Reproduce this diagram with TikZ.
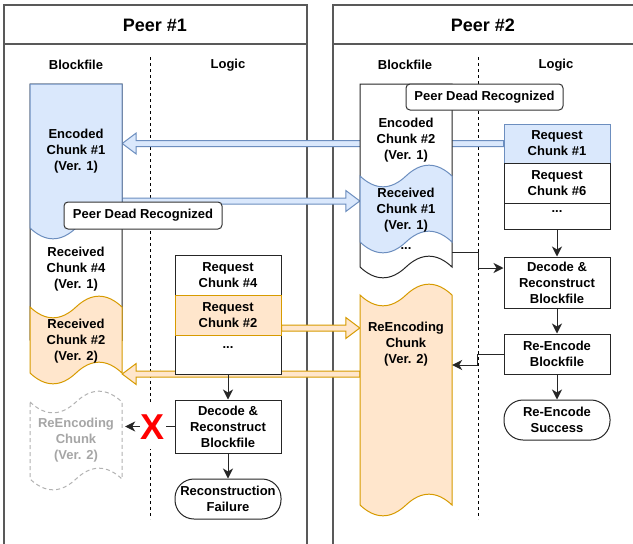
\documentclass[tikz,border=0pt]{standalone}
\usepackage{fontspec}
\setmainfont{Liberation Sans}
\usetikzlibrary{arrows.meta,calc}
\definecolor{bfill}{HTML}{DAE8FC}
\definecolor{bline}{HTML}{6C8EBF}
\definecolor{ofill}{HTML}{FFE6CC}
\definecolor{oline}{HTML}{D79B00}
\pgfdeclarelayer{back}
\pgfdeclarelayer{arrowsl}
\pgfdeclarelayer{shapesl}
\pgfdeclarelayer{front}
\pgfsetlayers{back,arrowsl,shapesl,main,front}
\newcommand{\myfs}{\fontsize{13}{16}\selectfont\bfseries}
\newcommand{\flexarr}[3]{%
  \path[#3] let \p1=#1, \p2=#2, \n1={ifthenelse(\x2>\x1,1,-1)} in
    (\x1,{\y1+3pt}) -- ({\x2-(\n1)*14pt},{\y1+3pt}) -- ({\x2-(\n1)*14pt},{\y1+10.5pt})
    -- (\x2,\y1) -- ({\x2-(\n1)*14pt},{\y1-10.5pt}) -- ({\x2-(\n1)*14pt},{\y1-3pt})
    -- (\x1,{\y1-3pt}) -- cycle;}
\tikzset{
  wavetop/.style 2 args={insert path={.. controls ({#1+15.33},{#2+14.4}) and ({#1+30.67},{#2+14.4}) .. ({#1+46},#2) .. controls ({#1+61.33},{#2-14.4}) and ({#1+76.67},{#2-14.4}) .. ({#1+92},#2)}},
  wavebot/.style 2 args={insert path={.. controls ({#1+76.67},{#2-14.4}) and ({#1+61.33},{#2-14.4}) .. ({#1+46},#2) .. controls ({#1+30.67},{#2+14.4}) and ({#1+15.33},{#2+14.4}) .. (#1,#2)}},
  pframe/.style={draw=black!65, line width=1.2pt},
  ptitle/.style={font=\fontsize{18}{22}\selectfont\bfseries, inner sep=0pt},
  colhead/.style={font=\myfs, inner sep=0pt},
  sepline/.style={draw=black, line width=1pt, dash pattern=on 3pt off 3pt},
  txt/.style={font=\myfs, align=center, inner sep=0pt, minimum width=92pt},
  docw/.style={draw=black!85, fill=white, line width=1pt},
  docb/.style={draw=bline, fill=bfill, line width=1pt},
  doco/.style={draw=oline, fill=ofill, line width=1pt},
  ghostsh/.style={draw=black!30, dash pattern=on 4pt off 3pt, line width=1pt, fill=white},
  lbox/.style={draw=black!85, fill=white, line width=1pt, minimum width=106pt, inner sep=0pt, font=\myfs, align=center},
  pdr/.style={draw=black!80, fill=white, rounded corners=4pt, line width=1pt, inner sep=0pt, font=\myfs},
  arr/.style={draw=black!85, line width=1pt, -{Stealth[length=10pt,width=10pt,inset=3pt]}},
  barr/.style={draw=bline, fill=bfill, line width=1pt},
  oarr/.style={draw=oline, fill=ofill, line width=1pt},
}
\begin{document}
\begin{tikzpicture}[x=1pt,y=-1pt]
\useasboundingbox (0,0) rectangle (633,544);
% frames
\begin{pgfonlayer}{back}
  \fill[white] (0,0) rectangle (633,544);
  \draw[pframe] (4,560) -- (4,5) -- (307,5) -- (307,560);
  \draw[pframe] (4,44) -- (307,44);
  \draw[pframe] (333,560) -- (333,5) -- (640,5);
  \draw[pframe] (333,44) -- (640,44);
  \draw[sepline] (150,57) -- (150,519);
  \draw[sepline] (478,57) -- (478,519);
\end{pgfonlayer}
\node[ptitle] (t1) at (155,25) {Peer \#1};
\node[ptitle] (t2) at (483,25) {Peer \#2};
\node[colhead] (h1) at (76,65) {Blockfile};
\node[colhead] (h2) at (228,65) {Logic};
\node[colhead] (h3) at (405,65) {Blockfile};
\node[colhead] (h4) at (556,65) {Logic};
% blockfile shapes
\begin{pgfonlayer}{shapesl}
  \draw[docw] (30,84) -- (122,84) -- (122,340) [wavebot={30}{340}] -- cycle;
  \draw[docb] (30,84) -- (122,84) -- (122,228) [wavebot={30}{228}] -- cycle;
  \draw[doco] (30,307) [wavetop={30}{307}] -- (122,373) [wavebot={30}{373}] -- cycle;
  \draw[ghostsh] (30,402) [wavetop={30}{402}] -- (122,479) [wavebot={30}{479}] -- cycle;
  \draw[docw] (360,84) -- (452,84) -- (452,267) [wavebot={360}{267}] -- cycle;
  \draw[docb] (360,176) [wavetop={360}{176}] -- (452,242) [wavebot={360}{242}] -- cycle;
  \draw[doco] (360,295) [wavetop={360}{295}] -- (452,505) [wavebot={360}{505}] -- cycle;
\end{pgfonlayer}
% blockfile texts
\node[txt] (enc1) at (76,151) {Encoded\\Chunk \#1\\(Ver. 1)};
\node[txt] (rc4) at (76,269) {Received\\Chunk \#4\\(Ver. 1)};
\node[txt] (rc2) at (76,341) {Received\\Chunk \#2\\(Ver. 2)};
\node[txt, text=black!35] (ghost) at (76,440) {ReEncoding\\Chunk\\(Ver. 2)};
\node[txt] (enc2) at (406,140) {Encoded\\Chunk \#2\\(Ver. 1)};
\node[txt] (rc1) at (406,210) {Received\\Chunk \#1\\(Ver. 1)};
\node[txt] (bdots) at (406,249) {...};
\node[txt] (reenc) at (406,344) {ReEncoding\\Chunk\\(Ver. 2)};
% logic peer 1
\node[lbox, minimum height=40pt] (req4) at (228,275) {Request\\Chunk \#4};
\node[lbox, text height=13pt, text depth=26pt] (p1dots) at (228,354.5) {...};
\node[lbox, minimum height=40pt, fill=ofill, draw=oline] (req2) at (228,315) {Request\\Chunk \#2};
\node[lbox, minimum height=53pt] (p1dec) at (228,426.5) {Decode \&\\Reconstruct\\Blockfile};
\node[lbox, minimum height=40pt, rounded corners=19pt] (p1fail) at (228,499) {Reconstruction\\Failure};
% logic peer 2
\node[lbox, minimum height=39pt, fill=bfill, draw=bline] (req1) at (557,143.5) {Request\\Chunk \#1};
\node[lbox, minimum height=40pt] (req6) at (557,183) {Request\\Chunk \#6};
\node[lbox, text height=9pt, text depth=17pt] (p2dots) at (557,216) {...};
\node[lbox, minimum height=51pt] (p2dec) at (557,282.5) {Decode \&\\Reconstruct\\Blockfile};
\node[lbox, minimum height=40pt] (p2re) at (557,354) {Re-Encode\\Blockfile};
\node[lbox, minimum height=40pt, rounded corners=19pt] (p2succ) at (557,420) {Re-Encode\\Success};
% flex arrows
\begin{pgfonlayer}{arrowsl}
  \flexarr{(req1.west)}{(enc1.east |- req1.west)}{barr}
  \flexarr{($(enc1.east)+(0,50)$)}{($(rc1.west)+(0,-9)$)}{barr}
  \flexarr{($(req2.east)+(0,13)$)}{($(reenc.west)+(0,-16)$)}{oarr}
  \flexarr{($(reenc.west)+(0,30)$)}{($(rc2.east)+(0,33)$)}{oarr}
\end{pgfonlayer}
% connectors
\draw[arr] (p1dots) -- (p1dec);
\draw[arr] (p1dec) -- (p1fail);
\draw[arr] (p1dec.west) -- ([xshift=3pt]p1dec.west -| ghost.east);
\draw[arr] ($(enc2.east)+(0,112)$) -- ++(26,0) |- ($(p2dec.west)+(0,-14.5)$);
\draw[arr] (p2dots) -- (p2dec);
\draw[arr] (p2dec) -- (p2re);
\draw[arr] (p2re) -- (p2succ);
\draw[arr] (p2re.west) -- ++(-26,0) |- ($(reenc.east)+(0,21)$);
\node[fill=white, minimum width=26pt, minimum height=44pt, inner sep=0pt, text=red, font=\fontsize{36}{36}\selectfont\bfseries] (xmark) at (153,427) {X};
% labels
\begin{pgfonlayer}{front}
  \node[pdr, minimum width=158pt, minimum height=27pt] (pdr1) at (143,215.5) {Peer Dead Recognized};
  \node[pdr, minimum width=157pt, minimum height=26pt] (pdr2) at (484.5,97) {Peer Dead Recognized};
\end{pgfonlayer}
\end{tikzpicture}
\end{document}
